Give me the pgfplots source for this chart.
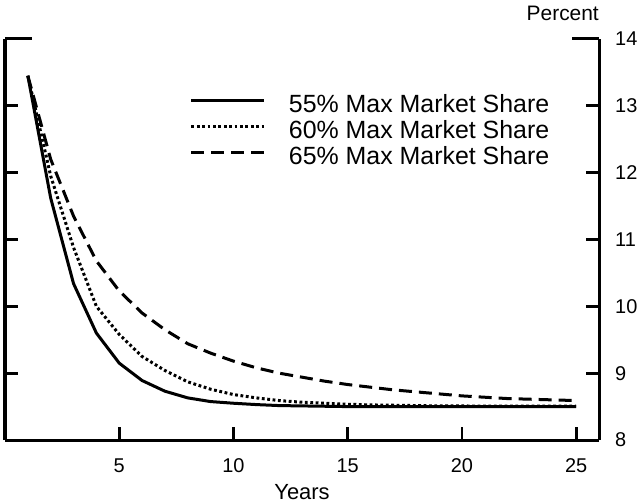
\documentclass[border=0pt]{standalone}
\usepackage{pgfplots}
\pgfplotsset{compat=1.18}
\usepackage{fontspec}
\setmainfont{Liberation Sans}

\begin{document}
\begin{tikzpicture}
\begin{axis}[
    scale only axis,
    clip=false,
    width=594bp, height=401bp,
    xmin=0, xmax=26,
    ymin=8, ymax=14,
    axis x line=bottom,
    axis y line=box,
    axis line style={-, line width=3bp},
    xtick={5,10,15,20,25},
    ytick={8,9,...,14},
    yticklabel pos=right,
    tick align=inside,
    major tick length=13bp,
    tick style={black, line width=2.8bp},
    /pgf/number format/assume math mode=true,
    ticklabel style={font=\fontsize{20}{24}\selectfont, inner sep=0pt},
    xticklabel style={anchor=base, yshift=-32bp},
    yticklabel style={anchor=west, xshift=16bp},
    xlabel={Years},
    xlabel style={font=\fontsize{22}{26}\selectfont, at={(axis description cs:0.5,0)},
        anchor=base, yshift=-59bp, inner sep=0pt},
    legend cell align=left,
    legend style={draw=none, fill=none, at={(0.306,0.868)}, anchor=north west,
        font=\fontsize{25}{26}\selectfont, column sep=23bp,
        nodes={inner sep=0pt, text height=18bp, text depth=8bp}},
    legend image code/.code={\draw[#1] (0bp,7bp) -- (73bp,7bp);},
]
\addplot[black, line width=3bp] coordinates {
(1,13.45) (2,11.62) (3,10.34) (4,9.6) (5,9.15) (6,8.89) (7,8.73) (8,8.63)
(9,8.575) (10,8.55) (11,8.53) (12,8.515) (13,8.51) (14,8.505) (15,8.5)
(16,8.5) (17,8.5) (18,8.5) (19,8.5) (20,8.5) (21,8.5) (22,8.5) (23,8.5) (24,8.5) (25,8.5)};
\addlegendentry{55\% Max Market Share}
\addplot[black, line width=3bp, dash pattern=on 2.8bp off 2.6bp] coordinates {
(1,13.45) (2,11.95) (3,10.88) (4,10.0) (5,9.58) (6,9.25) (7,9.04) (8,8.87)
(9,8.76) (10,8.68) (11,8.63) (12,8.59) (13,8.565) (14,8.55) (15,8.535)
(16,8.525) (17,8.52) (18,8.515) (19,8.51) (20,8.51) (21,8.505) (22,8.505) (23,8.505) (24,8.505) (25,8.505)};
\addlegendentry{60\% Max Market Share}
\addplot[black, line width=3bp, dash pattern=on 13bp off 7bp] coordinates {
(1,13.45) (2,12.2) (3,11.35) (4,10.68) (5,10.23) (6,9.9) (7,9.65) (8,9.44)
(9,9.3) (10,9.18) (11,9.08) (12,9.0) (13,8.94) (14,8.88) (15,8.83)
(16,8.79) (17,8.75) (18,8.72) (19,8.69) (20,8.66) (21,8.64) (22,8.62) (23,8.61) (24,8.6) (25,8.59)};
\addlegendentry{65\% Max Market Share}
\draw[line width=3bp] (rel axis cs:0,1) -- ([xshift=27bp]rel axis cs:0,1);
\draw[line width=3bp] (rel axis cs:1,1) -- ([xshift=-27bp]rel axis cs:1,1);
\node[anchor=base east, font=\fontsize{21}{24}\selectfont, inner sep=0pt]
    at ([yshift=18bp]rel axis cs:1,1) {Percent};
\coordinate (bl) at (rel axis cs:0,0);
\coordinate (tr) at (rel axis cs:1,1);
\end{axis}
\pgfresetboundingbox
\path[use as bounding box] ([shift={(-5bp,-63bp)}]bl) rectangle ([shift={(43bp,39bp)}]tr);
\end{tikzpicture}
\end{document}
